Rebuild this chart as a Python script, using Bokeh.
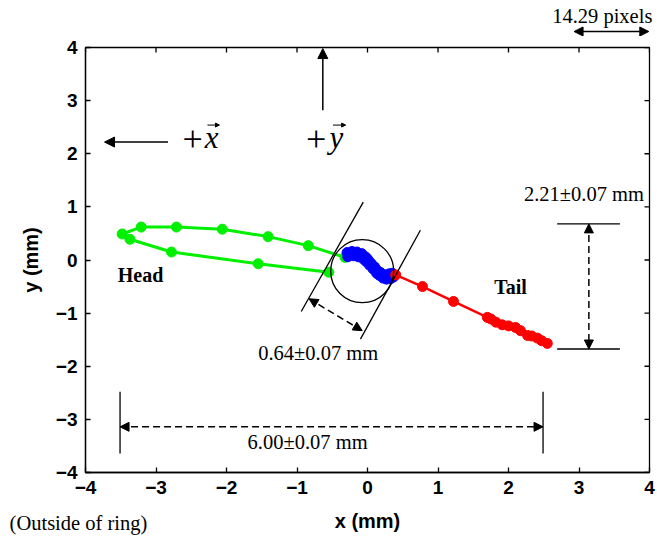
from bokeh.plotting import figure
from bokeh.layouts import column
from bokeh.models import Range1d, FixedTicker, Label, Arrow, NormalHead
from bokeh.embed import file_html
from bokeh.resources import INLINE

# Track of the body centreline (mm): head loop, ring section, tail
green_x = [-0.55, -1.55, -2.78, -3.37, -3.48, -3.21, -2.71, -2.06, -1.41, -0.84, -0.32]
green_y = [-0.23, -0.07, 0.15, 0.39, 0.49, 0.62, 0.62, 0.58, 0.44, 0.27, 0.05]

blue_x = [-0.29, -0.28, -0.25, -0.22, -0.20, -0.17, -0.15, -0.13, -0.10, -0.08, -0.06,
          -0.03, -0.02, 0.00, 0.02, 0.03, 0.05, 0.06, 0.08, 0.10, 0.11, 0.13,
          0.15, 0.17, 0.19, 0.21, 0.22, 0.25, 0.27, 0.29, 0.31, 0.33, 0.35, 0.37]
blue_y = [0.14, 0.06, 0.10, 0.16, 0.08, 0.12, 0.15, 0.06, 0.10, 0.12, 0.02,
          0.06, -0.03, 0.02, -0.02, -0.10, -0.06, -0.09, -0.17, -0.13, -0.16, -0.25,
          -0.21, -0.29, -0.24, -0.27, -0.34, -0.28, -0.36, -0.30, -0.26, -0.35, -0.25, -0.32]

red_x = [0.40, 0.78, 1.22, 1.70, 1.75, 1.82, 1.91, 2.00, 2.10, 2.17, 2.27, 2.33, 2.41, 2.47, 2.55]
red_y = [-0.28, -0.50, -0.78, -1.08, -1.11, -1.17, -1.22, -1.24, -1.27, -1.33, -1.42, -1.43, -1.47, -1.52, -1.57]

ticks = [-4, -3, -2, -1, 0, 1, 2, 3, 4]

# Measured dimensions (mm)
wavelength = 6.00
amplitude_label = "2.21\u00b10.07 mm"
wavelength_label = "6.00\u00b10.07 mm"
width_label = "0.64\u00b10.07 mm"
scale_label = "14.29 pixels"

SERIF = "Liberation Serif"
SANS = "Liberation Sans"
NOTE = "20.5px"
GREEN, BLUE, RED = "#00f000", "#0000ff", "#ff0000"

W = 657
LEFT, RIGHT = 85, 8
PX_PER_MM = (W - LEFT - RIGHT) / 8.0
# strips span the whole canvas width but keep the main plot's horizontal scale
X_LO = -4 - LEFT / PX_PER_MM
X_HI = 4 + RIGHT / PX_PER_MM

TOP_H, BOT_H = 36, 35
MAIN_H = 540 - TOP_H - BOT_H


def head(sz=9):
    return NormalHead(size=sz, fill_color="black", line_color="black", line_width=1)


def add_label(fig, x, y, text, size=NOTE, font=SERIF, style="normal", align="center"):
    fig.add_layout(Label(x=x, y=y, text=text, text_font=font, text_font_size=size,
                         text_font_style=style, text_align=align, text_baseline="middle",
                         text_color="black"))


def strip(height):
    # full-width band; y counts pixels from the top of the band
    f = figure(width=W, height=height, x_range=Range1d(X_LO, X_HI),
               y_range=Range1d(height, 0), output_backend="svg", toolbar_location=None,
               x_axis_type=None, y_axis_type=None, frame_align=False,
               min_border_left=0, min_border_right=0, min_border_top=0, min_border_bottom=0)
    f.grid.visible = False
    f.outline_line_color = None
    f.background_fill_color = "white"
    f.border_fill_color = "white"
    return f


# ---- scale bar strip above the plot ----
top = strip(TOP_H)
add_label(top, 3.33, 15, scale_label)
top.add_layout(Arrow(x_start=2.93, y_start=31, x_end=3.99, y_end=31,
                     start=head(9), end=head(9), line_width=1.5))

# ---- main plot ----
p = figure(width=W, height=MAIN_H, x_range=Range1d(-4, 4), y_range=Range1d(-4, 4),
           output_backend="svg", toolbar_location=None, frame_align=False,
           min_border_left=LEFT, min_border_right=RIGHT, min_border_top=11, min_border_bottom=33,
           y_axis_label="y (mm)")
p.grid.visible = False
p.outline_line_color = "black"
p.outline_line_width = 1.3
p.background_fill_color = "white"
p.border_fill_color = "white"

for ax in list(p.xaxis) + list(p.yaxis):
    ax.ticker = FixedTicker(ticks=ticks)
    ax.major_tick_in = 5
    ax.major_tick_out = 0
    ax.minor_tick_line_color = None
    ax.axis_line_width = 1.3
    ax.major_tick_line_width = 1.3
    ax.major_label_text_font = SANS
    ax.major_label_text_font_style = "bold"
    ax.major_label_text_font_size = "19px"
    ax.major_label_text_color = "black"
    ax.axis_label_text_font = SANS
    ax.axis_label_text_font_style = "bold"
    ax.axis_label_text_font_size = "20px"
    ax.axis_label_text_color = "black"
p.xaxis.major_label_standoff = 8
p.yaxis.major_label_standoff = 8
p.yaxis.axis_label_standoff = 11

# inward tick marks along the top and right edges of the box
frame_h = MAIN_H - 11 - 33
tick_y = 5 / (frame_h / 8.0)
tick_x = 5 / PX_PER_MM
p.segment(x0=ticks, y0=[4] * len(ticks), x1=ticks, y1=[4 - tick_y] * len(ticks),
          line_color="black", line_width=1.3)
p.segment(x0=[4] * len(ticks), y0=ticks, x1=[4 - tick_x] * len(ticks), y1=ticks,
          line_color="black", line_width=1.3)

# track
p.line(green_x, green_y, line_color=GREEN, line_width=3)
p.scatter(green_x, green_y, size=10, color=GREEN)
p.scatter(blue_x, blue_y, size=10, color=BLUE)
p.line(red_x, red_y, line_color=RED, line_width=2.5)
p.scatter(red_x, red_y, size=10, color=RED)

# ring cross-section
p.scatter([-0.075], [-0.21], size=63, fill_color=None, line_color="black", line_width=1.3)
p.line([-0.06, -0.94], [1.09, -0.97], line_color="black", line_width=1.3)
p.line([0.75, -0.10], [0.56, -1.49], line_color="black", line_width=1.3)
p.add_layout(Arrow(x_start=-0.83, y_start=-0.73, x_end=-0.075, y_end=-1.33,
                   start=head(), end=head(), line_dash="7 4", line_width=1.5))

# amplitude marker
p.line([2.69, 3.58], [0.68, 0.68], line_color="black", line_width=1.3)
p.line([2.69, 3.58], [-1.675, -1.675], line_color="black", line_width=1.3)
p.add_layout(Arrow(x_start=3.14, y_start=0.68, x_end=3.14, y_end=-1.675,
                   start=head(), end=head(), line_dash="7 4", line_width=1.5))

# wavelength marker
wl_left = -3.51
wl_right = wl_left + wavelength
p.line([wl_left, wl_left], [-2.48, -3.64], line_color="black", line_width=1.3)
p.line([wl_right, wl_right], [-2.48, -3.64], line_color="black", line_width=1.3)
p.add_layout(Arrow(x_start=wl_left, y_start=-3.14, x_end=wl_right, y_end=-3.14,
                   start=head(), end=head(), line_dash="7 4", line_width=1.5))

# direction arrows
p.add_layout(Arrow(x_start=-2.83, y_start=2.22, x_end=-3.73, y_end=2.22,
                   end=head(10), line_width=1.5))
p.add_layout(Arrow(x_start=-0.634, y_start=2.82, x_end=-0.634, y_end=3.98,
                   end=head(10), line_width=1.5))
p.add_layout(Arrow(x_start=-2.27, y_start=2.54, x_end=-2.10, y_end=2.54,
                   end=head(4), line_width=1))
p.add_layout(Arrow(x_start=-0.49, y_start=2.54, x_end=-0.31, y_end=2.54,
                   end=head(4), line_width=1))

add_label(p, 3.07, 1.25, amplitude_label)
add_label(p, -0.85, -3.42, wavelength_label)
add_label(p, -0.70, -1.745, width_label)
add_label(p, -3.22, -0.29, "Head", size="20px", style="bold")
add_label(p, 2.03, -0.51, "Tail", size="20px", style="bold")
add_label(p, -2.48, 2.28, "+", size="36px")
add_label(p, -2.21, 2.31, "x", size="31px", style="italic")
add_label(p, -0.73, 2.28, "+", size="36px")
add_label(p, -0.44, 2.31, "y", size="31px", style="italic")

# ---- axis title strip below the plot ----
bot = strip(BOT_H)
add_label(bot, 0.0, 15, "x (mm)", size="20px", font=SANS, style="bold")
add_label(bot, -4.1, 17, "(Outside of ring)")

layout = column(top, p, bot, spacing=0)
open("out.html", "w").write(file_html(layout, INLINE))
